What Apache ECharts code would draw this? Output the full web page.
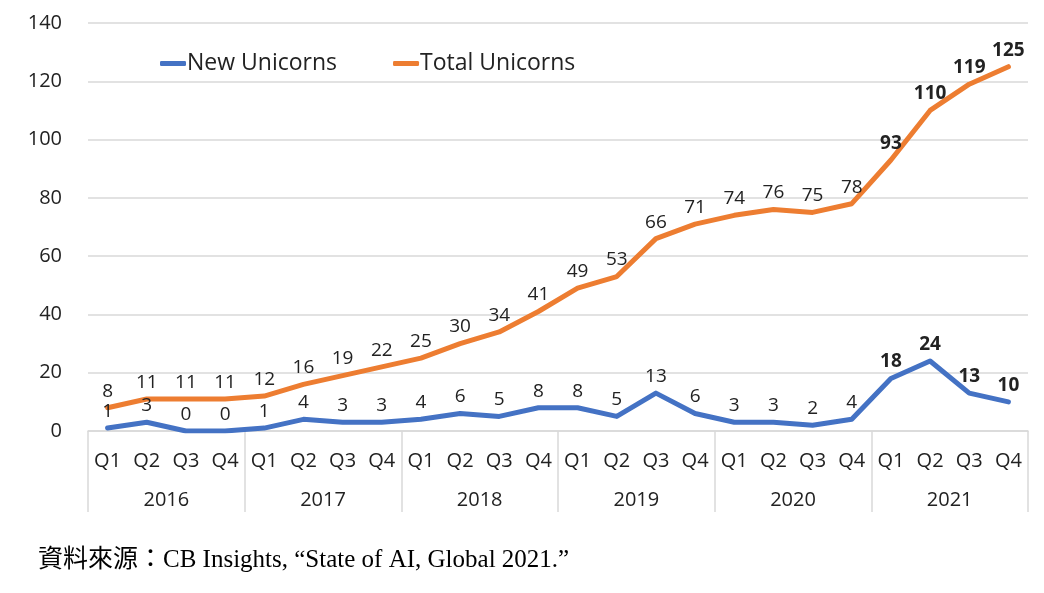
<!DOCTYPE html>
<html>
<head>
<meta charset="utf-8">
<script src="https://cdn.jsdelivr.net/npm/echarts@6/dist/echarts.min.js"></script>
<style>
    html, body { margin: 0; padding: 0; background: #fff; }
    #chart { width: 1044px; height: 593px; }
</style>
</head>
<body>
<div id="chart"></div>
<script>
// 資料
let quarters = ['Q1', 'Q2', 'Q3', 'Q4', 'Q1', 'Q2', 'Q3', 'Q4', 'Q1', 'Q2', 'Q3', 'Q4',
    'Q1', 'Q2', 'Q3', 'Q4', 'Q1', 'Q2', 'Q3', 'Q4', 'Q1', 'Q2', 'Q3', 'Q4'];
let years = ['2016', '2017', '2018', '2019', '2020', '2021'];
let newUnicorns = [1, 3, 0, 0, 1, 4, 3, 3, 4, 6, 5, 8, 8, 5, 13, 6, 3, 3, 2, 4, 18, 24, 13, 10];
let totalUnicorns = [8, 11, 11, 11, 12, 16, 19, 22, 25, 30, 34, 41, 49, 53, 66, 71, 74, 76, 75, 78, 93, 110, 119, 125];
let boldFrom = 20; // 2021 起標籤加粗

window.addEventListener('load', function() {
    let myChart = echarts.init(document.getElementById('chart'));
    let font = 'Open Sans, Noto Sans, sans-serif';

    function withBold(arr) {
        return arr.map(function(v, i) {
            if (i < boldFrom) return v;
            return { value: v, label: { fontWeight: 'bold' } };
        });
    }

    let labelStyle = { show: true, position: 'top', distance: 7, fontSize: 19, color: '#222', fontFamily: font };

    let option = {
        animation: false,
        grid: { left: 88, right: 16, top: 23, bottom: 162 },
        legend: {
            left: 155,
            top: 47,
            itemGap: 56,
            itemWidth: 26,
            itemHeight: 5,
            icon: 'roundRect',
            textStyle: { fontSize: 23, color: '#222', fontFamily: font, padding: [0, 0, 0, -4] },
            data: ['New Unicorns', 'Total Unicorns']
        },
        xAxis: [{
            type: 'category',
            data: quarters,
            axisLine: { lineStyle: { color: '#d9d9d9', width: 1.5 } },
            axisTick: { show: false },
            axisLabel: { color: '#222', fontSize: 20, fontFamily: font, margin: 20, interval: 0 }
        }, {
            type: 'category',
            data: years,
            position: 'bottom',
            axisLine: { show: false },
            axisTick: { show: true, length: 81, lineStyle: { color: '#d9d9d9', width: 1.5 } },
            axisLabel: { color: '#222', fontSize: 20, fontFamily: font, margin: 59, interval: 0 }
        }],
        yAxis: {
            type: 'value',
            min: 0,
            max: 140,
            interval: 20,
            axisLine: { show: false },
            axisTick: { show: false },
            axisLabel: { color: '#222', fontSize: 20, fontFamily: font, margin: 26 },
            splitLine: { lineStyle: { color: '#d9d9d9', width: 1.5 } }
        },
        color: ['#4472c4', '#ed7d31'],
        series: [{
            name: 'New Unicorns',
            type: 'line',
            data: withBold(newUnicorns),
            symbol: 'circle',
            symbolSize: 0.1,
            showSymbol: true,
            lineStyle: { width: 5, cap: 'round', join: 'round' },
            label: labelStyle
        }, {
            name: 'Total Unicorns',
            type: 'line',
            data: withBold(totalUnicorns),
            symbol: 'circle',
            symbolSize: 0.1,
            showSymbol: true,
            lineStyle: { width: 5, cap: 'round', join: 'round' },
            label: labelStyle
        }],
        graphic: [{
            type: 'text',
            left: 38,
            top: 548,
            style: {
                text: '資料來源：CB Insights, “State of AI, Global 2021.”',
                fontSize: 25,
                fill: '#000',
                fontFamily: 'Liberation Serif, Noto Sans CJK TC, serif'
            }
        }]
    };
    myChart.setOption(option);
});
</script>
</body>
</html>
